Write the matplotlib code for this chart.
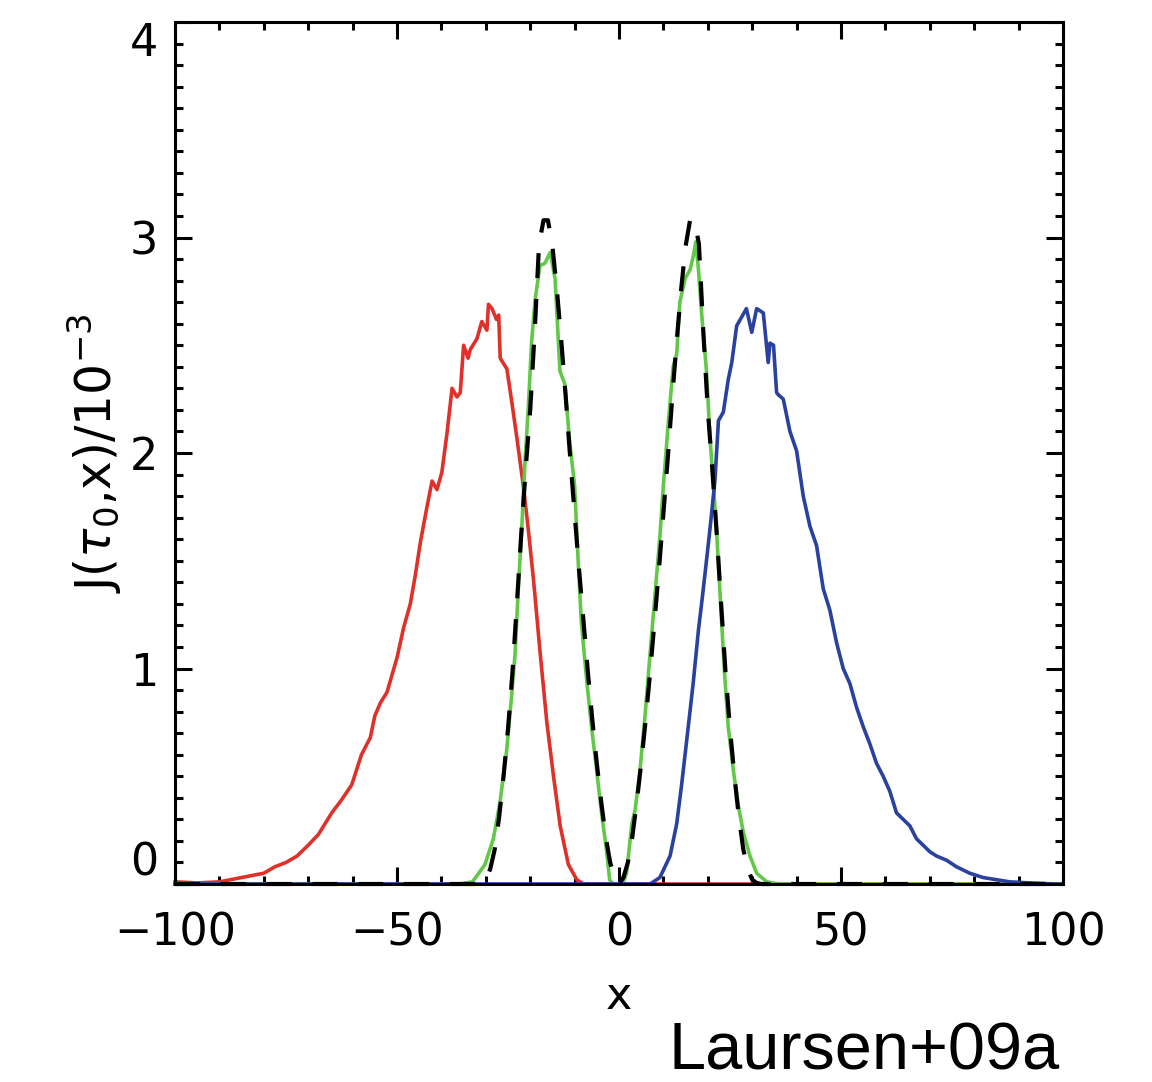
import matplotlib
matplotlib.use('Agg')
import matplotlib.pyplot as plt
from matplotlib.ticker import MultipleLocator

plt.rcParams['font.family'] = ['DejaVu Sans']
plt.rcParams['mathtext.fontset'] = 'dejavusans'

# red: Monte Carlo spectrum, shifted to the blue side (x < 0)
red_x = [-100, -95, -90, -85, -80, -77.5, -75, -72.5, -70, -67.7, -64.7, -62.5, -60.2, -58,
         -56, -55, -53.75, -52.25, -50, -48.5, -47, -45.9, -44.7, -43.25, -42.1, -41, -39.9,
         -38.75, -37.6, -36.5, -35.75, -35, -34, -33.5, -32, -30.9, -29.75, -29.4, -28.6,
         -27.6, -27.1, -26.75, -25.25, -24.1, -23, -21.5, -20.4, -19.25, -17.75, -16.25,
         -14.75, -13.25, -11.4, -9.5, -8, 100]
red_y = [0.01, 0.005, 0.01, 0.03, 0.05, 0.08, 0.10, 0.13, 0.18, 0.23, 0.33, 0.39, 0.46, 0.60,
         0.68, 0.78, 0.84, 0.89, 1.05, 1.19, 1.30, 1.43, 1.59, 1.75, 1.87, 1.83, 1.91,
         2.09, 2.30, 2.26, 2.28, 2.50, 2.44, 2.48, 2.53, 2.61, 2.57, 2.69, 2.67,
         2.62, 2.64, 2.44, 2.39, 2.23, 2.07, 1.84, 1.64, 1.41, 1.07, 0.75,
         0.50, 0.27, 0.09, 0.02, 0.0, 0.0]

# green: static medium, double peak
green_x = [-100, -36, -33, -30.2, -28.3, -26.8, -25.3, -24.2, -23.4, -22.7, -21.9, -21.2, -20.4,
           -19.7, -18.9, -17.8, -16.7, -15.5, -14.4, -13.3, -12.2, -11.1, -10.0, -9.2, -8.5,
           -7.4, -6.2, -5.1, -4.0, -2.9, -2.1, -1.4, 0.0, 1.0, 1.7, 2.9, 3.6, 4.7, 5.9, 7.0,
           8.1, 9.2, 10.0, 11.1, 12.2, 13.0, 13.7, 14.9, 16.0, 16.7, 17.3, 17.9, 18.6, 19.7,
           20.5, 21.2, 22.0, 23.1, 23.8, 24.6, 25.8, 26.9, 28.0, 29.5, 31.0, 33.3, 36, 100]
green_y = [0.0, 0.0, 0.01, 0.09, 0.21, 0.38, 0.62, 0.87, 1.07, 1.36, 1.65, 1.95, 2.22,
           2.51, 2.71, 2.87, 2.88, 2.93, 2.81, 2.38, 2.32, 2.05, 1.85, 1.50, 1.22,
           0.97, 0.73, 0.54, 0.34, 0.17, 0.02, 0.0, 0.0, 0.01, 0.05, 0.28, 0.34, 0.52, 0.79, 1.07,
           1.34, 1.61, 1.85, 2.14, 2.40, 2.46, 2.70, 2.81, 2.85, 2.91, 2.98, 2.85, 2.65, 2.38,
           2.07, 1.87, 1.63, 1.22, 0.97, 0.73, 0.52, 0.36, 0.24, 0.13, 0.05, 0.01, 0.0, 0.0]

# blue: Monte Carlo spectrum, shifted to the red side (x > 0)
blue_x = [-100, 7, 9.2, 11.5, 13, 14.1, 15.6, 16.7, 17.9, 18.6, 19.7, 20.5, 21.6, 22.4, 23.5,
          24.6, 25.4, 26.5, 27.6, 28.7, 29.9, 31.0, 32.5, 33.6, 34.0, 34.8, 35.5, 35.9, 37,
          38.5, 40, 41.5, 43, 44.5, 46, 47.5, 49, 50.5, 52, 53.5, 55, 56.5, 58, 59.5, 61,
          62.5, 64, 65.5, 67, 68.5, 70, 71.5, 73.8, 76, 79, 82, 85, 88, 92.5, 98.5, 100]
blue_y = [0.0, 0.0, 0.03, 0.13, 0.28, 0.46, 0.73, 0.93, 1.18, 1.30, 1.50, 1.65, 1.87, 2.15, 2.19,
          2.34, 2.42, 2.59, 2.63, 2.67, 2.56, 2.67, 2.65, 2.42, 2.51, 2.50, 2.28, 2.27, 2.25,
          2.10, 2.01, 1.80, 1.66, 1.57, 1.37, 1.27, 1.12, 1.00, 0.93, 0.82, 0.73, 0.65, 0.56, 0.50, 0.43,
          0.33, 0.30, 0.27, 0.21, 0.18, 0.15, 0.13, 0.11, 0.08, 0.05, 0.03, 0.02, 0.01, 0.005, 0.0, 0.0]

# black dashed: analytic solution
ana_x = [-100, -32, -31, -30, -29, -28, -27, -26, -25, -24, -23, -22, -21, -20, -19, -18,
         -17, -16, -15, -14, -13, -12, -11, -10, -9, -8, -7, -6, -5, -4, -3, -2, -1, 0,
         1, 2, 3, 4, 5, 6, 7, 8, 9, 10, 11, 12, 13, 14, 15, 16, 17, 18, 19, 20, 21, 22,
         23, 24, 25, 26, 27, 28, 29, 30, 31, 32, 100]
ana_y = [0.0, 0.0, 0.005, 0.02, 0.07, 0.16, 0.31, 0.50, 0.72, 0.98, 1.30, 1.63, 1.93, 2.20, 2.56, 2.97,
         3.08, 3.08, 2.96, 2.76, 2.52, 2.26, 1.98, 1.72, 1.46, 1.22, 0.98, 0.76, 0.56, 0.38, 0.22, 0.10, 0.03, 0.0,
         0.03, 0.10, 0.22, 0.38, 0.56, 0.76, 0.98, 1.22, 1.46, 1.72, 1.98, 2.26, 2.52, 2.76, 2.96, 3.08,
         3.08, 2.97, 2.56, 2.20, 1.93, 1.63, 1.30, 0.98, 0.72, 0.50, 0.31, 0.16, 0.07, 0.02, 0.005, 0.0, 0.0]

fig = plt.figure(figsize=(11.52, 10.82), dpi=100)
ax = fig.add_axes([175 / 1152, 1 - 884 / 1082, 888 / 1152, 862 / 1082])

lw = 2.6
ax.plot(red_x, red_y, color='#e0302a', lw=lw, clip_on=False)
ax.plot(green_x, green_y, color='#63c84a', lw=lw, clip_on=False)
ax.plot(blue_x, blue_y, color='#2a41a0', lw=lw, clip_on=False)
ax.plot(ana_x, ana_y, color='black', lw=3.0, dashes=(6, 5), clip_on=False)

ax.set_xlim(-100, 100)
ax.set_ylim(0, 4)

ax.xaxis.set_major_locator(MultipleLocator(50))
ax.xaxis.set_minor_locator(MultipleLocator(10))
ax.yaxis.set_major_locator(MultipleLocator(1))
ax.yaxis.set_minor_locator(MultipleLocator(0.1))

for s in ax.spines.values():
    s.set_linewidth(2.2)

ax.tick_params(which='both', direction='in', top=True, right=True, width=2.2, labelsize=32)
ax.tick_params(which='major', length=12)
ax.tick_params(which='minor', length=6)
ax.tick_params(axis='x', which='major', pad=20)
ax.tick_params(axis='y', which='major', pad=12)

ax.set_xticks([-100, -50, 0, 50, 100])
ax.set_xticklabels(['\u2212100', '\u221250', '0', '50', '100'])
ax.set_yticks([0, 1, 2, 3, 4])
ylabels = ax.set_yticklabels(['0', '1', '2', '3', '4'])
ylabels[0].set_va('bottom')
ylabels[-1].set_va('top')

ax.set_ylabel(r'J$(\tau_0$,x)/10$^{-3}$', fontsize=35)
ax.yaxis.set_label_coords(-0.09, 0.5)
ax.yaxis.label.set_va('center')
ax.set_xlabel('x', fontsize=32)
ax.xaxis.set_label_coords(0.5, -0.131)
ax.xaxis.label.set_va('center')

fig.text(1060 / 1152, 1 - 1052 / 1082, 'Laursen+09a', ha='right', va='center',
         fontsize=48, family=['Liberation Sans', 'DejaVu Sans'])

fig.savefig('out.png', dpi=100)
